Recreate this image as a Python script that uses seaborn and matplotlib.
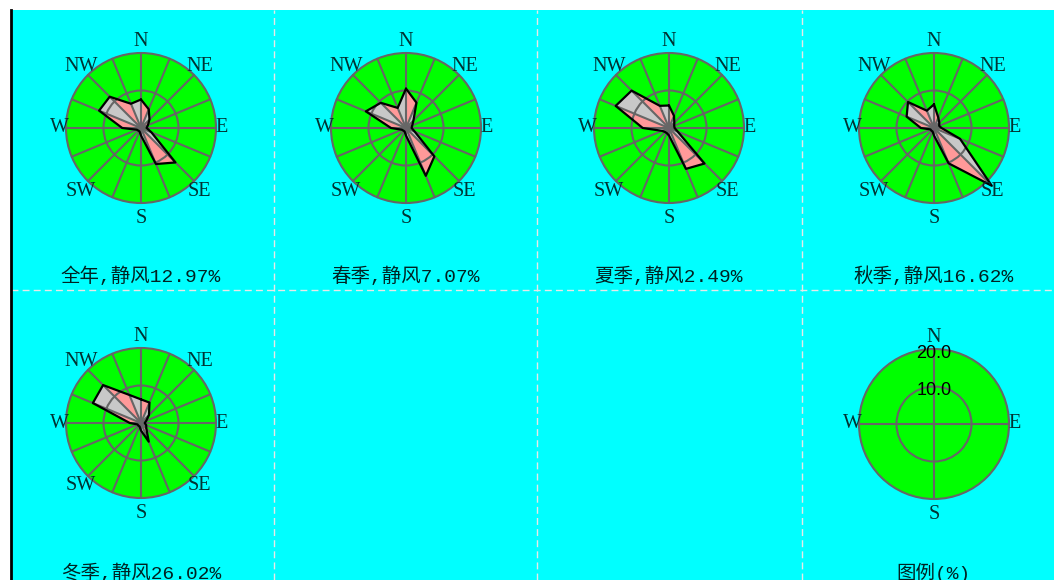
import numpy as np
import matplotlib
matplotlib.use("Agg")
import matplotlib.pyplot as plt
from matplotlib.patches import Circle
import seaborn as sns

# 16 compass directions, clockwise from N
directions = ["N", "NNE", "NE", "ENE", "E", "ESE", "SE", "SSE",
              "S", "SSW", "SW", "WSW", "W", "WNW", "NW", "NNW"]

# wind direction frequency (%) per season
freq_annual = [7.6, 5.4, 3.2, 2.0, 1.5, 3.0, 13.0, 10.4, 2.0, 1.0, 1.0, 1.2, 5.0, 12.1, 11.8, 7.0]
freq_spring = [10.5, 7.3, 2.8, 1.8, 1.5, 2.5, 10.7, 13.8, 2.0, 1.0, 1.0, 1.2, 4.0, 11.6, 9.5, 5.8]
freq_summer = [6.0, 3.5, 2.0, 1.5, 1.5, 2.5, 13.4, 11.8, 2.0, 1.5, 1.5, 2.0, 7.0, 15.4, 14.1, 6.4]
freq_autumn = [6.3, 3.0, 2.0, 1.5, 2.0, 7.5, 21.8, 10.2, 2.0, 1.0, 1.0, 1.0, 3.5, 7.9, 9.8, 5.0]
freq_winter = [6.3, 5.9, 3.0, 1.5, 1.0, 1.5, 2.0, 5.4, 2.0, 1.0, 1.0, 1.0, 3.0, 13.9, 14.3, 8.1]

period_names = ["全年", "春季", "夏季", "秋季", "冬季"]
calm_pct = [12.97, 7.07, 2.49, 16.62, 26.02]
ring_values = [10.0, 20.0]
legend_title = "图例(%)"

sns.set_theme(style="white")
plt.rcParams["font.family"] = ["Liberation Serif", "Noto Sans CJK SC", "DejaVu Sans"]
TITLE_FONT = ["Liberation Mono", "Noto Sans CJK SC", "DejaVu Sans"]

CYAN = "#00ffff"
GREEN = "#00ff00"
GRID = "#666666"
PINK = "#ff9999"
GRAY = "#c8c8c8"

W, H = 1054, 580
fig = plt.figure(figsize=(W / 100, H / 100), dpi=100)

# background panel in pixel coordinates
bg = fig.add_axes([11 / W, 0, (W - 11) / W, 570 / H])
bg.set_xlim(11, W)
bg.set_ylim(H, 10)
bg.set_facecolor(CYAN)
bg.set_xticks([])
bg.set_yticks([])
for side in ["top", "right", "bottom"]:
    bg.spines[side].set_visible(False)
bg.spines["left"].set_color("black")
bg.spines["left"].set_linewidth(2)
for xv in [274, 537, 802]:
    bg.axvline(xv, color="#e8e8e8", lw=1, ls=(0, (5, 3)))
bg.axhline(290, color="#e8e8e8", lw=1, ls=(0, (5, 3)))

R_MAX = 20.0
HALF = 115  # half size of each rose axes, px
LIM = HALF / 75 * R_MAX

label_pos = {"N": (0, 23.0), "NE": (15.6, 16.3), "E": (21.6, 0), "SE": (15.6, -16.8),
             "S": (0, -24.2), "SW": (-16.0, -16.8), "W": (-21.8, 0), "NW": (-16.0, 16.3)}


def rose_axes(cx, cy):
    ax = fig.add_axes([(cx - HALF) / W, (H - cy - HALF) / H, 2 * HALF / W, 2 * HALF / H])
    ax.set_xlim(-LIM, LIM)
    ax.set_ylim(-LIM, LIM)
    ax.axis("off")
    ax.add_patch(Circle((0, 0), R_MAX, fc=GREEN, ec="none", zorder=1))
    return ax


def draw_grid(ax, n_spokes, labels):
    for r in ring_values:
        ax.add_patch(Circle((0, 0), r, fc="none", ec=GRID, lw=1.5, zorder=3))
    for b in np.arange(n_spokes) * 360 / n_spokes:
        t = np.deg2rad(b)
        ax.plot([0, R_MAX * np.sin(t)], [0, R_MAX * np.cos(t)], color=GRID, lw=1.5, zorder=3)
    for lab in labels:
        x, y = label_pos[lab]
        ax.text(x, y, lab, ha="center", va="center", fontsize=14.5, color="#003333", zorder=5)


def draw_rose(ax, freq):
    theta = np.deg2rad(np.arange(len(freq)) * 360 / len(freq))
    r = np.asarray(freq)
    xs, ys = r * np.sin(theta), r * np.cos(theta)
    n = len(freq)
    for k in range(n):
        j = (k + 1) % n
        ax.fill([0, xs[k], xs[j]], [0, ys[k], ys[j]],
                color=GRAY if k % 2 else PINK, lw=0, zorder=2)
    draw_grid(ax, 16, ["N", "NE", "E", "SE", "S", "SW", "W", "NW"])
    sns.lineplot(x=np.append(xs, xs[0]), y=np.append(ys, ys[0]), sort=False,
                 estimator=None, color="black", lw=1.6, ax=ax, zorder=4)


series = [freq_annual, freq_spring, freq_summer, freq_autumn, freq_winter]
centers = [(141, 128), (406, 128), (669, 128), (934, 128), (141, 423)]
title_y = [276, 276, 276, 276, 573]

for freq, (cx, cy), name, calm, ty in zip(series, centers, period_names, calm_pct, title_y):
    ax = rose_axes(cx, cy)
    draw_rose(ax, freq)
    bg.text(cx, ty, f"{name},静风{calm:.2f}%", ha="center", va="center",
            fontsize=14, family=TITLE_FONT, color="#002222")

# legend rose
lax = rose_axes(934, 424)
draw_grid(lax, 4, ["N", "E", "S", "W"])
for r in ring_values:
    lax.text(0, r - 1.1, f"{r:.1f}", ha="center", va="center", fontsize=13,
             family=["Liberation Sans", "DejaVu Sans"], color="black", zorder=6)
bg.text(934, 573, legend_title, ha="center", va="center", fontsize=14,
        family=TITLE_FONT, color="#002222")

fig.savefig("out.png", dpi=100, facecolor="white")
